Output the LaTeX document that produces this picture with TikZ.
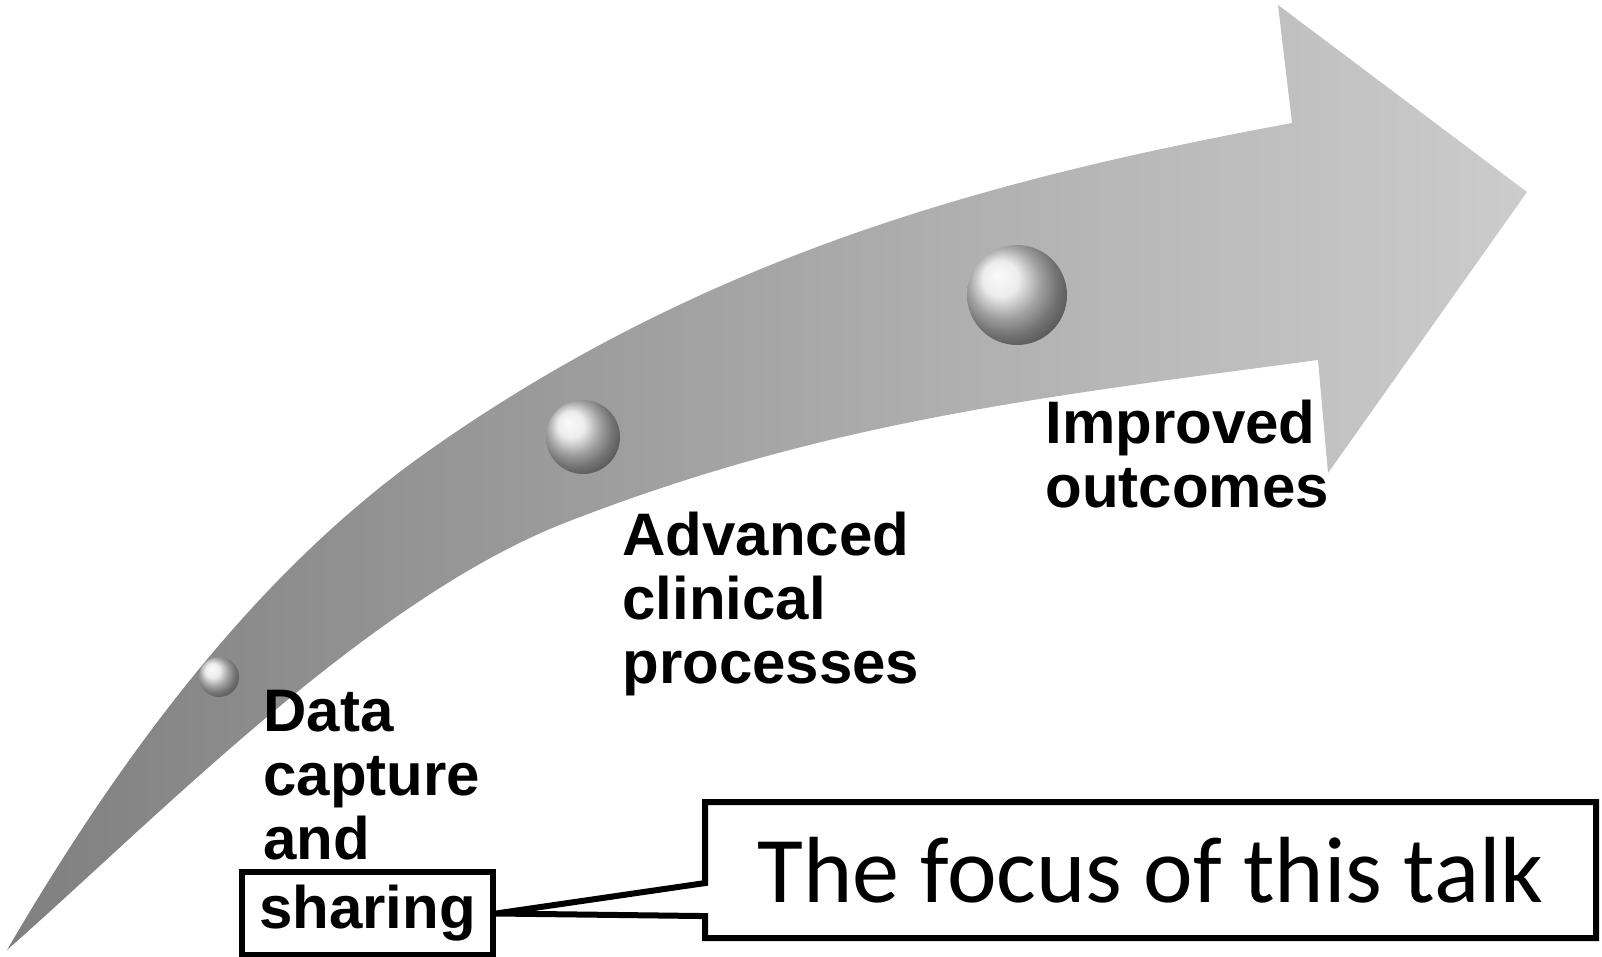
\documentclass[tikz,border=0pt]{standalone}
\usepackage{fontspec}
\setmainfont{Liberation Sans}
\newfontfamily\talkfont{Carlito}
\usetikzlibrary{shapes.callouts}

\begin{document}
\begin{tikzpicture}[x=0.5pt,y=-0.5pt]
\tikzset{stage/.style={anchor=north west,inner sep=0pt,align=left,font=\fontsize{30pt}{32pt}\selectfont\bfseries}}
\tikzset{bead/.style={circle,inner sep=0pt,shading=ball,ball color=black!10}}
\tikzset{frame/.style={draw,line width=3pt}}

\useasboundingbox (0,0) rectangle (1602,957);

\shade[left color=black!50,right color=black!20]
  (7,950) .. controls (150,705) and (287,551) .. (427,452)
  .. controls (707,254) and (995,178) .. (1292,123)
  -- (1278,5) -- (1527,192) -- (1328,473) -- (1318,360)
  .. controls (1032,398) and (822,423) .. (567,522)
  .. controls (369,599) and (159,816) .. (7,950)
  -- cycle;

\node[bead,minimum size=20pt] (bead1) at (219,677) {};
\node[bead,minimum size=37pt] (bead2) at (583,437) {};
\node[bead,minimum size=50pt] (bead3) at (1017,295) {};

\node[stage] (data) at (263,690) {Data\\capture\\and};
\node[stage] (advanced) at (622,512) {Advanced\\clinical\\processes};
\node[stage] (improved) at (1045,400) {Improved\\outcomes};

\node[frame,minimum width=125.5pt,minimum height=41.5pt,inner sep=0pt,font=\fontsize{30pt}{32pt}\selectfont\bfseries] (sharing) at (367.5,913.5) {sharing};

\node[rectangle callout,frame,fill=white,inner sep=0pt,minimum width=445.5pt,minimum height=68pt,
  callout absolute pointer={(sharing.east)},callout pointer width=16.5pt,
  font=\talkfont\fontsize{47pt}{56pt}\selectfont] (focus) at (1150.5,870) {The focus of this talk};

\end{tikzpicture}
\end{document}
